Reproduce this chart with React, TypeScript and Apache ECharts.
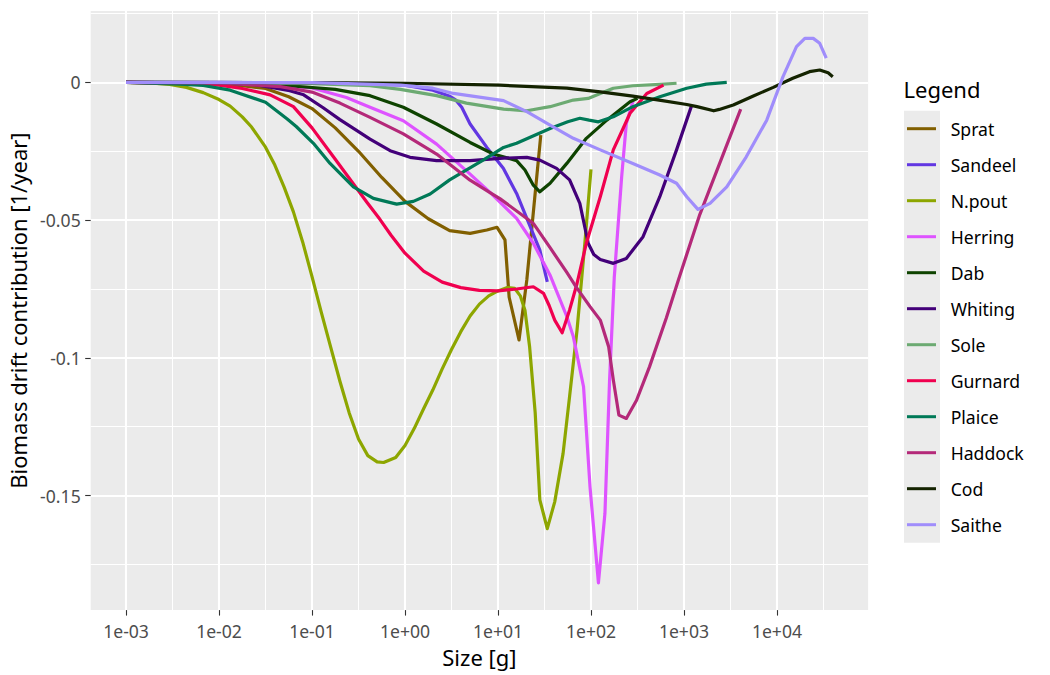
import React, { useEffect, useRef } from "react";
import * as echarts from "echarts";

// Each point: [log10(size in g), biomass drift contribution (1/year)]
const sprat: number[][] = [[-3,0],[-2.5,-0.0002],[-2,-0.0006],[-1.75,-0.0012],[-1.5,-0.0022],[-1.25,-0.0052],[-1,-0.0095],[-0.75,-0.0165],[-0.5,-0.025],[-0.25,-0.0345],[0,-0.0432],[0.25,-0.0495],[0.48,-0.0538],[0.7,-0.0548],[0.88,-0.0536],[0.99,-0.0526],[1.075,-0.0572],[1.12,-0.078],[1.226,-0.0935],[1.31,-0.0717],[1.46,-0.0191]];
const sandeel: number[][] = [[-3,0],[-2,0],[-1,-0.0002],[-0.5,-0.0004],[0,-0.001],[0.3,-0.0028],[0.48,-0.005],[0.54,-0.0062],[0.61,-0.009],[0.7,-0.0151],[0.88,-0.0236],[1.057,-0.0312],[1.2,-0.0403],[1.31,-0.0494],[1.45,-0.0609],[1.53,-0.0724]];
const npout: number[][] = [[-3,0],[-2.75,-0.0002],[-2.53,-0.0007],[-2.35,-0.0018],[-2.17,-0.0037],[-2,-0.0062],[-1.88,-0.0086],[-1.75,-0.0125],[-1.65,-0.0162],[-1.5,-0.0235],[-1.4,-0.03],[-1.3,-0.038],[-1.2,-0.047],[-1.1,-0.058],[-1,-0.0705],[-0.9,-0.0835],[-0.8,-0.096],[-0.7,-0.1085],[-0.6,-0.12],[-0.5,-0.1295],[-0.4,-0.1355],[-0.3,-0.1378],[-0.23,-0.138],[-0.1,-0.1362],[0,-0.1318],[0.1,-0.1256],[0.2,-0.1185],[0.3,-0.1116],[0.4,-0.104],[0.5,-0.097],[0.6,-0.0905],[0.7,-0.0848],[0.8,-0.0805],[0.9,-0.0775],[1,-0.0757],[1.1,-0.0745],[1.18,-0.0748],[1.24,-0.0775],[1.29,-0.0827],[1.34,-0.096],[1.4,-0.12],[1.45,-0.1516],[1.53,-0.162],[1.61,-0.1523],[1.7,-0.1347],[1.77,-0.114],[1.85,-0.0899],[1.935,-0.058],[2,-0.0316]];
const herring: number[][] = [[-3,0],[-2,-0.0002],[-1.5,-0.0007],[-1,-0.002],[-0.63,-0.0055],[-0.376,-0.009],[-0.018,-0.0139],[0.34,-0.0224],[0.7,-0.0333],[0.914,-0.0399],[1.2,-0.0494],[1.38,-0.0584],[1.56,-0.07],[1.74,-0.085],[1.81,-0.0923],[1.92,-0.1105],[1.99,-0.147],[2.08,-0.1817],[2.15,-0.1565],[2.2,-0.108],[2.25,-0.071],[2.33,-0.0342],[2.38,-0.0149],[2.455,-0.0064]];
const dab: number[][] = [[-3,0],[-2,-0.0001],[-1.24,-0.0012],[-0.75,-0.0025],[-0.376,-0.0048],[-0.018,-0.009],[0.34,-0.0151],[0.7,-0.0218],[0.95,-0.026],[1.2,-0.0284],[1.29,-0.0318],[1.38,-0.0373],[1.45,-0.0397],[1.56,-0.0366],[1.74,-0.0294],[1.95,-0.0203],[2.17,-0.0137],[2.42,-0.007],[2.5,-0.0058]];
const whiting: number[][] = [[-3,0],[-2,-0.0002],[-1.63,-0.0007],[-1.24,-0.003],[-1.09,-0.0045],[-0.88,-0.0092],[-0.7,-0.0135],[-0.55,-0.0168],[-0.376,-0.0206],[-0.16,-0.0248],[0.054,-0.0272],[0.34,-0.0284],[0.7,-0.0284],[1.06,-0.0275],[1.31,-0.0272],[1.45,-0.0282],[1.63,-0.0312],[1.77,-0.0354],[1.88,-0.0439],[1.97,-0.0584],[2.03,-0.0625],[2.1,-0.0643],[2.24,-0.0657],[2.38,-0.0639],[2.56,-0.056],[2.74,-0.0415],[2.92,-0.0245],[3.08,-0.0086]];
const sole: number[][] = [[-3,0],[-1,-0.0004],[-0.376,-0.0012],[-0.05,-0.0025],[0.34,-0.0048],[0.66,-0.0075],[1.06,-0.0097],[1.31,-0.0103],[1.56,-0.0088],[1.81,-0.0064],[1.97,-0.0058],[2.1,-0.004],[2.24,-0.0021],[2.45,-0.0012],[2.74,-0.0007],[2.92,-0.0003]];
const gurnard: number[][] = [[-3,0],[-2.5,-0.0003],[-2,-0.001],[-1.75,-0.0022],[-1.45,-0.0045],[-1.2,-0.0088],[-1,-0.0165],[-0.77,-0.027],[-0.56,-0.0366],[-0.41,-0.0435],[-0.27,-0.0497],[-0.15,-0.0555],[0,-0.062],[0.2,-0.0685],[0.4,-0.0725],[0.6,-0.0745],[0.8,-0.0755],[1,-0.0757],[1.2,-0.075],[1.38,-0.0742],[1.49,-0.0766],[1.55,-0.081],[1.61,-0.0863],[1.69,-0.0909],[1.77,-0.0826],[1.85,-0.073],[1.95,-0.0584],[2.1,-0.0415],[2.24,-0.0245],[2.42,-0.0112],[2.6,-0.004],[2.78,-0.001]];
const plaice: number[][] = [[-3,0],[-2.42,-0.0006],[-2.17,-0.0011],[-1.88,-0.0028],[-1.5,-0.0072],[-1.27,-0.0132],[-1.17,-0.016],[-0.985,-0.0221],[-0.806,-0.0294],[-0.555,-0.0379],[-0.34,-0.0421],[-0.09,-0.0442],[0.09,-0.0432],[0.27,-0.0405],[0.48,-0.0354],[0.84,-0.0282],[1.06,-0.0236],[1.2,-0.0221],[1.56,-0.0167],[1.75,-0.0143],[1.88,-0.013],[1.98,-0.0137],[2.08,-0.0143],[2.24,-0.0125],[2.45,-0.0088],[2.74,-0.0052],[3.03,-0.0021],[3.24,-0.0006],[3.46,0]];
const haddock: number[][] = [[-3,0],[-2,-0.0002],[-1.34,-0.0015],[-1,-0.0035],[-0.7,-0.0075],[-0.376,-0.0127],[-0.018,-0.0187],[0.34,-0.026],[0.7,-0.0355],[0.914,-0.04],[1.02,-0.0422],[1.31,-0.0494],[1.38,-0.0512],[1.56,-0.06],[1.74,-0.069],[1.845,-0.0745],[1.99,-0.0814],[2.1,-0.0863],[2.19,-0.096],[2.24,-0.108],[2.3,-0.1208],[2.38,-0.122],[2.49,-0.1154],[2.63,-0.1032],[2.81,-0.0855],[2.94,-0.0717],[3.17,-0.048],[3.61,-0.0097]];
const cod: number[][] = [[-3,0],[-1,-0.0001],[0,-0.0003],[1.02,-0.001],[1.74,-0.0021],[2.1,-0.0034],[2.45,-0.005],[2.75,-0.0065],[3.03,-0.008],[3.14,-0.0088],[3.32,-0.0103],[3.38,-0.0098],[3.53,-0.0082],[3.74,-0.005],[3.96,-0.0018],[4.17,0.0015],[4.35,0.0039],[4.46,0.0045],[4.55,0.0035],[4.6,0.0021]];
const saithe: number[][] = [[-3,0],[-1,-0.0001],[-0.05,-0.001],[0.3,-0.0021],[0.52,-0.004],[1.06,-0.0066],[1.31,-0.0106],[1.56,-0.0155],[1.81,-0.0203],[2.1,-0.0245],[2.45,-0.0294],[2.74,-0.0336],[2.81,-0.0348],[2.92,-0.0366],[3.03,-0.0415],[3.15,-0.0461],[3.28,-0.0439],[3.46,-0.0379],[3.67,-0.027],[3.89,-0.0137],[4.065,0.0021],[4.21,0.013],[4.3,0.016],[4.39,0.016],[4.46,0.0142],[4.53,0.0088]];

const speciesNames = ["Sprat", "Sandeel", "N.pout", "Herring", "Dab", "Whiting", "Sole", "Gurnard", "Plaice", "Haddock", "Cod", "Saithe"];
const speciesColours = ["#815F00", "#6237E2", "#8DA600", "#DE53FF", "#0E4300", "#430079", "#6CAA72", "#F0004F", "#007957", "#B42979", "#142300", "#A08DFB"];
const speciesData = [sprat, sandeel, npout, herring, dab, whiting, sole, gurnard, plaice, haddock, cod, saithe];

const xMajorTicks = [-3, -2, -1, 0, 1, 2, 3, 4];
const xMinorTicks = [-2.5, -1.5, -0.5, 0.5, 1.5, 2.5, 3.5, 4.5];
const yMajorTicks = [-0.15, -0.1, -0.05, 0];
const yMinorTicks = [-0.175, -0.125, -0.075, -0.025, 0.025];
const xLimits = [-3.38, 4.98];
const yLimits = [-0.1916, 0.0259];

const FONT = "Noto Sans";

function formatPow(v: number): string {
  const e = Math.round(v);
  const s = String(Math.abs(e)).padStart(2, "0");
  return "1e" + (e < 0 ? "-" : "+") + s;
}

export default function App() {
  const ref = useRef<HTMLDivElement>(null);
  useEffect(() => {
    if (!ref.current) return;
    const chart = echarts.init(ref.current, null, { renderer: "svg" });
    const gridLeft = 90.7;
    const gridRight = 1050 - 868.1;
    const gridTop = 11.1;
    const gridBottom = 675 - 610.1;
    chart.setOption({
      animation: false,
      backgroundColor: "#FFFFFF",
      textStyle: { fontFamily: FONT },
      title: {
        text: "Legend",
        left: 903.5,
        top: 78,
        padding: 0,
        textStyle: { fontFamily: FONT, fontSize: 22, fontWeight: "normal", color: "#000000" },
      },
      grid: {
        left: gridLeft,
        right: gridRight,
        top: gridTop,
        bottom: gridBottom,
        show: true,
        backgroundColor: "#EBEBEB",
        borderWidth: 0,
        containLabel: false,
        outerBoundsMode: "none",
      },
      legend: {
        orient: "vertical",
        left: 907,
        top: 118.7,
        padding: 0,
        itemWidth: 48.4,
        itemHeight: 3,
        itemGap: 16,
        icon: "path://M0,0L29,0L29,3L0,3Z",
        symbolKeepAspect: true,
        selectedMode: false,
        data: speciesNames,
        textStyle: { fontFamily: FONT, fontSize: 17.6, color: "#000000", lineHeight: 20 },
      },
      graphic: [
        {
          type: "rect",
          z: 0,
          silent: true,
          shape: { x: 904, y: 110.7, width: 36, height: 432 },
          style: { fill: "#EBEBEB" },
        },
      ],
      xAxis: [
        {
          type: "value",
          position: "bottom",
          min: xLimits[0],
          max: xLimits[1],
          axisLine: { show: false, onZero: false },
          axisTick: {
            show: true,
            length: 5.5,
            lineStyle: { color: "#333333", width: 1.1 },
            customValues: xMajorTicks,
          },
          axisLabel: {
            show: true,
            customValues: xMajorTicks,
            formatter: (v: number) => formatPow(v),
            color: "#4D4D4D",
            fontSize: 17.6,
            fontFamily: FONT,
            margin: 11.5,
          },
          splitLine: { show: true, lineStyle: { color: "#FFFFFF", width: 2.1 } },
          name: "Size [g]",
          nameLocation: "middle",
          nameGap: 35.5,
          nameTextStyle: { fontFamily: FONT, fontSize: 22, color: "#000000" },
        },
        {
          type: "value",
          position: "bottom",
          min: xLimits[0],
          max: xLimits[1],
          axisLine: { show: false, onZero: false },
          axisTick: { show: false, customValues: xMinorTicks },
          axisLabel: { show: false, customValues: xMinorTicks },
          splitLine: { show: true, lineStyle: { color: "#FFFFFF", width: 1.05 } },
        },
      ],
      yAxis: [
        {
          type: "value",
          position: "left",
          min: yLimits[0],
          max: yLimits[1],
          axisLine: { show: false, onZero: false },
          axisTick: {
            show: true,
            length: 5.5,
            lineStyle: { color: "#333333", width: 1.1 },
            customValues: yMajorTicks,
          },
          axisLabel: {
            show: true,
            customValues: yMajorTicks,
            formatter: (v: number) => String(v),
            color: "#4D4D4D",
            fontSize: 17.6,
            fontFamily: FONT,
            margin: 10,
          },
          splitLine: { show: true, lineStyle: { color: "#FFFFFF", width: 2.1 } },
          name: "Biomass drift contribution [1/year]",
          nameLocation: "middle",
          nameGap: 62,
          nameTextStyle: { fontFamily: FONT, fontSize: 22, color: "#000000" },
        },
        {
          type: "value",
          position: "left",
          min: yLimits[0],
          max: yLimits[1],
          axisLine: { show: false, onZero: false },
          axisTick: { show: false, customValues: yMinorTicks },
          axisLabel: { show: false, customValues: yMinorTicks },
          splitLine: { show: true, lineStyle: { color: "#FFFFFF", width: 1.05 } },
        },
      ],
      series: speciesNames.map((name, i) => ({
        name,
        type: "line",
        xAxisIndex: 0,
        yAxisIndex: 0,
        data: speciesData[i],
        symbol: "none",
        showSymbol: false,
        silent: true,
        clip: true,
        smooth: false,
        lineStyle: { width: 3.2, color: speciesColours[i], join: "round", cap: "butt" },
        itemStyle: { color: speciesColours[i] },
        z: 10 + i,
      })),
    });
    return () => chart.dispose();
  }, []);
  return (
    <div
      ref={ref}
      style={{ position: "fixed", left: 0, top: 0, width: 1050, height: 675, background: "#FFFFFF" }}
    />
  );
}
